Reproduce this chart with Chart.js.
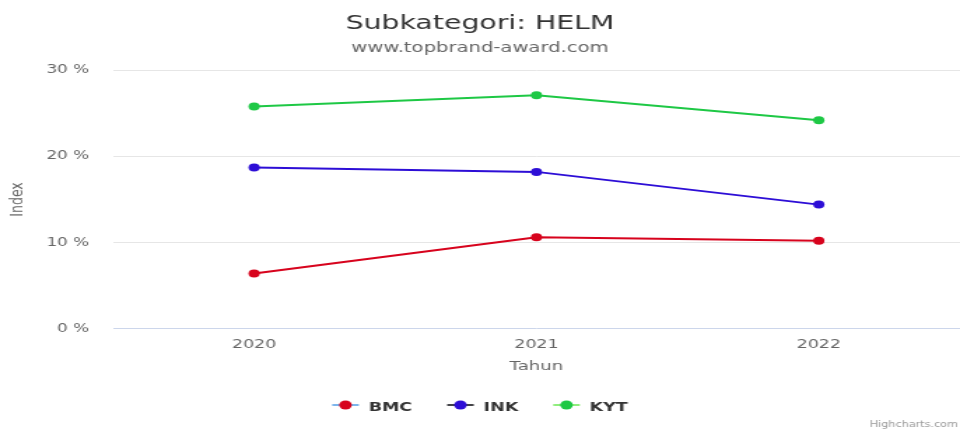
<!DOCTYPE html>
<html>
<head>
<meta charset="utf-8">
<script src="https://cdn.jsdelivr.net/npm/chart.js@4.4.1/dist/chart.umd.min.js"></script>
<style>
  html, body { margin: 0; padding: 0; background: #fff; }
  #chart { display: block; }
</style>
</head>
<body>
<!-- the reference is stretched sideways, so the canvas is drawn narrow and widened by its inline style -->
<canvas id="chart" width="686" height="430" style="width:960px;height:430px"></canvas>
<script>
const years = ["2020", "2021", "2022"];
const bmc = [6.4, 10.6, 10.2];
const ink = [18.7, 18.2, 14.4];
const kyt = [25.8, 27.1, 24.2];
const yTicks = [0, 10, 20, 30];

const titleText = "Subkategori: HELM";
const subtitleText = "www.topbrand-award.com";
const creditText = "Highcharts.com";

const FONT = "'DejaVu Sans', Verdana, sans-serif";

// legend line colours are the highcharts defaults, not the series colours
const legendLineColors = ["#7cb5ec", "#434348", "#90ed7d"];

const decorPlugin = {
    id: "decor",
    afterDraw(chart) {
        const ctx = chart.ctx;
        const w = chart.width;
        ctx.save();

        // title + subtitle
        ctx.textAlign = "center";
        ctx.textBaseline = "alphabetic";
        ctx.fillStyle = "#333333";
        ctx.font = "20.3px " + FONT;
        ctx.fillText(titleText, w / 2, 28.5);
        ctx.fillStyle = "#666666";
        ctx.font = "14px " + FONT;
        ctx.fillText(subtitleText, w / 2, 52);

        // legend
        ctx.font = "bold 12.5px " + FONT;
        const symW = 19, symGap = 7, itemGap = 25, ly = 405;
        const items = chart.data.datasets.map((ds) => ({
            ds: ds,
            tw: ctx.measureText(ds.label).width
        }));
        const total = items.reduce((s, it) => s + symW + symGap + it.tw, 0) + itemGap * (items.length - 1);
        let x = w / 2 - total / 2;
        items.forEach((it, i) => {
            ctx.strokeStyle = legendLineColors[i];
            ctx.lineWidth = 2;
            ctx.beginPath();
            ctx.moveTo(x, ly);
            ctx.lineTo(x + symW, ly);
            ctx.stroke();
            ctx.fillStyle = it.ds.borderColor;
            ctx.beginPath();
            ctx.arc(x + symW / 2, ly, 4.5, 0, Math.PI * 2);
            ctx.fill();
            ctx.fillStyle = "#333333";
            ctx.textAlign = "left";
            ctx.fillText(it.ds.label, x + symW + symGap, 410.5);
            x += symW + symGap + it.tw + itemGap;
        });

        // credits
        ctx.font = "8px " + FONT;
        ctx.fillStyle = "#999999";
        ctx.textAlign = "right";
        ctx.fillText(creditText, w - 1.5, 427);

        ctx.restore();
    }
};

function makeSet(label, data, color) {
    return {
        label: label,
        data: data,
        borderColor: color,
        backgroundColor: color,
        borderWidth: 2,
        tension: 0,
        pointRadius: 4,
        pointHoverRadius: 4,
        pointBorderWidth: 0,
        pointBackgroundColor: color
    };
}

const context = document.getElementById("chart").getContext("2d");

new Chart(context, {
    type: "line",
    data: {
        labels: years,
        datasets: [
            makeSet("BMC", bmc, "#d7031d"),
            makeSet("INK", ink, "#2d0ed6"),
            makeSet("KYT", kyt, "#1ec845")
        ]
    },
    options: {
        responsive: false,
        animation: false,
        layout: {
            autoPadding: false,
            padding: { top: 70.2, right: 0, bottom: 56, left: 0 }
        },
        plugins: {
            legend: { display: false },
            title: { display: false },
            tooltip: { enabled: false }
        },
        scales: {
            x: {
                offset: true,
                afterFit: (scale) => {
                    scale.height = 45.3;
                    scale.paddingLeft = 0;
                    scale.paddingRight = 0;
                },
                grid: { display: false },
                border: { display: false },
                ticks: {
                    color: "#666666",
                    padding: 1,
                    font: { family: FONT, size: 12.5 }
                },
                title: {
                    display: true,
                    text: "Tahun",
                    color: "#666666",
                    padding: { top: 5.5, bottom: 0 },
                    font: { family: FONT, size: 13 }
                }
            },
            y: {
                min: 0,
                max: 30,
                afterBuildTicks: (scale) => {
                    scale.ticks = yTicks.map((v) => ({ value: v }));
                },
                afterFit: (scale) => {
                    scale.width = 80.7;
                },
                grid: {
                    drawTicks: false,
                    color: (c) => (c.tick && c.tick.value === 0 ? "#ccd6eb" : "#e6e6e6")
                },
                border: { display: false },
                ticks: {
                    color: "#666666",
                    padding: 17,
                    font: { family: FONT, size: 12 },
                    callback: (v) => v + " %"
                },
                title: {
                    display: true,
                    text: "Index",
                    color: "#666666",
                    padding: { top: 5.4, bottom: 0 },
                    font: { family: FONT, size: 12.5 }
                }
            }
        }
    },
    plugins: [decorPlugin]
});
</script>
</body>
</html>
